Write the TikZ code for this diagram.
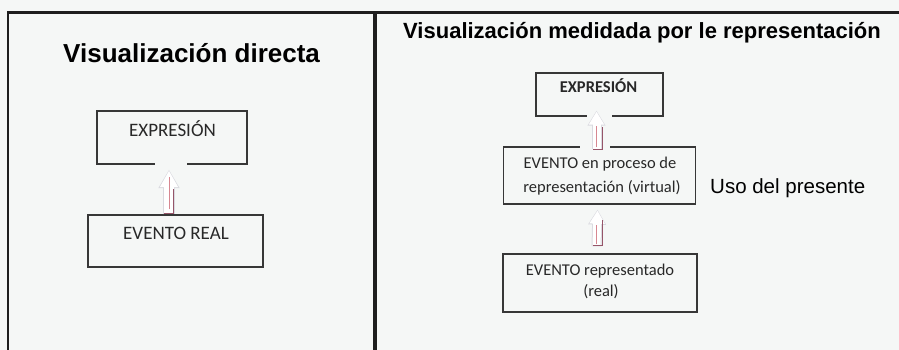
\documentclass[tikz,border=0pt]{standalone}
\usepackage{fontspec}
\setmainfont{Carlito}
\newfontfamily\arialf{Liberation Sans}
\usetikzlibrary{arrows.meta}
\definecolor{bgc}{RGB}{245,247,246}
\definecolor{framec}{RGB}{30,30,30}
\definecolor{boxc}{RGB}{55,55,55}
\definecolor{txtc}{RGB}{40,40,40}
\definecolor{arrred}{RGB}{215,135,145}
\definecolor{arrdark}{RGB}{150,85,105}
\definecolor{arrgray}{RGB}{218,218,224}
\begin{document}
\begin{tikzpicture}[x=1pt,y=-1pt,
  box/.style={draw=boxc, line width=1.3pt, inner sep=0pt},
  boxtext/.style={font=\fontsize{16.5}{20}\selectfont, text=txtc, anchor=base, inner sep=0pt},
  bigtext/.style={font=\fontsize{19}{23}\selectfont, text=txtc, anchor=base, inner sep=0pt},
  boxbold/.style={font=\fontsize{16.5}{20}\selectfont\bfseries, text=txtc, anchor=base, inner sep=0pt},
  titletext/.style={font=\arialf\bfseries, text=black, anchor=base west, inner sep=0pt},
  plaintext/.style={font=\arialf\fontsize{20.5}{24}\selectfont, text=black, anchor=base west, inner sep=0pt},
  arrowout/.style={draw=arrgray, line width=#1},
  arrowin/.style={draw=white, line width=#1},
  redline/.style={draw=arrred, line width=1pt},
  darkline/.style={draw=arrdark, line width=1pt},
  gapline/.style={draw=bgc, line width=2.6pt}
]
\fill[bgc] (0,0) rectangle (899,350);
\useasboundingbox (0,0) rectangle (899,350);
% frame
\draw[framec, line width=2.2pt] (8.3,350) -- (8.3,12.5) -- (899,12.5);
\draw[framec, line width=4.5pt] (375,12.5) -- (375,350);
% titles
\node[titletext, font=\arialf\bfseries\fontsize{26}{30}\selectfont] (t1) at (63,63) {Visualización directa};
\node[titletext, font=\arialf\bfseries\fontsize{22}{26}\selectfont] (t2) at (403,39) {Visualización medidada por le representación};
% left boxes
\node[box, minimum width=150, minimum height=53] (le) at (172,137.5) {};
\node[box, minimum width=175, minimum height=52] (lr) at (175.5,241) {};
\node[bigtext] (let) at (172.5,136.5) {EXPRESIÓN};
\node[bigtext] (lrt) at (176,239.5) {EVENTO REAL};
% right boxes
\node[box, minimum width=127, minimum height=43] (re) at (599.5,94.5) {};
\node[box, minimum width=192, minimum height=57] (rm) at (599.5,175.5) {};
\node[box, minimum width=194, minimum height=58] (rb) at (600,283) {};
\node[boxbold] (ret) at (598.5,93) {EXPRESIÓN};
\node[boxtext] (rmt1) at (600,168) {EVENTO en proceso de};
\node[boxtext] (rmt2) at (602,192) {representación (virtual)};
\node[boxtext] (rbt1) at (600,275.5) {EVENTO representado};
\node[boxtext] (rbt2) at (601,296) {(real)};
\node[plaintext] (uso) at (710,193) {Uso del presente};
% gaps in box edges
\draw[gapline] ([xshift=-17pt]le.south) -- ([xshift=15pt]le.south);
\draw[gapline] ([xshift=-12.5pt]re.south) -- ([xshift=12.5pt]re.south);
\draw[gapline] ([xshift=-20pt]rm.north) -- ([xshift=10pt]rm.north);
% left arrow
\draw[arrowout=11.5pt, -{Triangle[length=18.5pt,width=20pt]}] ([xshift=-6.5pt]lr.north) -- ([xshift=-3pt,yshift=-5pt]le.south);
\draw[arrowin=9.5pt, -{Triangle[length=16.5pt,width=17pt]}] ([xshift=-6.5pt,yshift=0.5pt]lr.north) -- ([xshift=-3pt,yshift=-6pt]le.south);
\draw[redline] ([xshift=-6.5pt,yshift=5pt]lr.north) -- ([xshift=-3pt,yshift=-12pt]le.south);
\draw[darkline] ([xshift=-11.5pt,yshift=1pt]lr.north) -- ++(9,0) -- ++(0,-24);
% upper right arrow
\draw[arrowout=10pt, -{Triangle[length=15pt,width=17pt]}] ([xshift=-3pt,yshift=-3pt]rm.north) -- ([xshift=-3pt,yshift=6pt]re.south);
\draw[arrowin=8pt, -{Triangle[length=13pt,width=14.5pt]}] ([xshift=-3pt,yshift=-2.5pt]rm.north) -- ([xshift=-3pt,yshift=5pt]re.south);
\draw[redline] ([xshift=-3.5pt,yshift=-1pt]rm.north) -- ([xshift=-3.5pt,yshift=-9pt]re.south);
\draw[darkline] ([xshift=-6.5pt,yshift=-3pt]rm.north) -- ++(9,0) -- ++(0,-22);
% lower right arrow
\draw[arrowout=10pt, -{Triangle[length=15pt,width=17pt]}] ([xshift=-3.5pt,yshift=7pt]rb.north) -- ([xshift=-2pt,yshift=-5pt]rm.south);
\draw[arrowin=8pt, -{Triangle[length=13pt,width=14.5pt]}] ([xshift=-3.5pt,yshift=7.5pt]rb.north) -- ([xshift=-2pt,yshift=-6pt]rm.south);
\draw[redline] ([xshift=-4pt,yshift=9pt]rb.north) -- ([xshift=-3.5pt,yshift=-20pt]rm.south);
\draw[darkline] ([xshift=-7pt,yshift=8pt]rb.north) -- ++(9,0) -- ++(0,-25);
\end{tikzpicture}
\end{document}
